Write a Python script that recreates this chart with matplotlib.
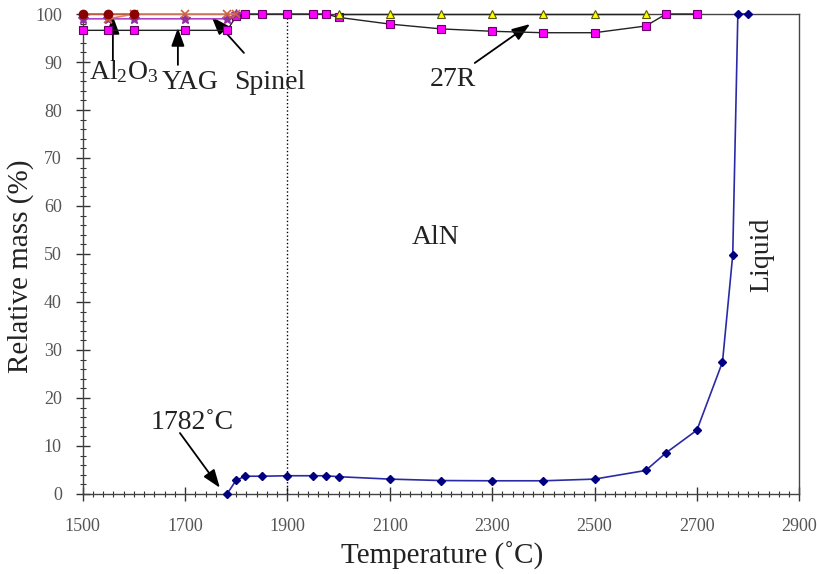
import matplotlib
matplotlib.use("Agg")
import matplotlib.pyplot as plt
from matplotlib.ticker import MultipleLocator

# ---- data ----
T_aln = [1782, 1800, 1818, 1850, 1900, 1950, 1975, 2000, 2100, 2200, 2300, 2400,
         2500, 2600, 2640, 2700, 2750, 2770, 2780, 2800]
m_aln = [0, 2.9, 3.7, 3.7, 3.8, 3.8, 3.8, 3.6, 3.1, 2.8, 2.75, 2.75,
         3.1, 4.9, 8.6, 13.3, 27.5, 49.8, 100, 100]

T_27r = [1500, 1550, 1600, 1700, 1782, 1800, 1818, 1850, 1900, 1950, 1975, 2000,
         2100, 2200, 2300, 2400, 2500, 2600, 2640, 2700]
m_27r = [96.6, 96.6, 96.6, 96.6, 96.6, 99.5, 100, 100, 100, 100, 100, 99.3,
         97.9, 96.9, 96.4, 96.1, 96.1, 97.5, 100, 100]

T_top = [2000, 2100, 2200, 2300, 2400, 2500, 2600]
m_top = [100, 100, 100, 100, 100, 100, 100]

T_al2o3 = [1500, 1550, 1600]
m_al2o3 = [100, 100, 100]

T_spinel = [1550, 1600, 1700, 1782, 1800]
m_spinel = [99, 100, 100, 100, 100]

T_yag = [1500, 1550, 1600, 1700, 1782, 1800]
m_yag = [99, 99, 99, 99, 99, 100]

x_ticks = [1500, 1700, 1900, 2100, 2300, 2500, 2700, 2900]
y_ticks = [0, 10, 20, 30, 40, 50, 60, 70, 80, 90, 100]

plt.rcParams['font.family'] = ['Liberation Serif', 'DejaVu Serif']
plt.rcParams['mathtext.fontset'] = 'custom'
plt.rcParams['mathtext.rm'] = 'Liberation Serif'
plt.rcParams['mathtext.it'] = 'Liberation Serif:italic'
plt.rcParams['mathtext.bf'] = 'Liberation Serif:bold'

fig = plt.figure(figsize=(8.17, 5.74), dpi=100)
ax = fig.add_axes([0.1012, 0.1394, 0.8771, 0.8362])

ax.axvline(1900, color='black', linestyle=':', linewidth=1)

ax.plot(T_27r, m_27r, color='#222222', linewidth=1, marker='s', markersize=6,
        markerfacecolor='#ff00ff', markeredgecolor='#660066', markeredgewidth=0.8,
        clip_on=False, zorder=4)
ax.plot(T_top, m_top, color='#222222', linewidth=1, marker='^', markersize=6,
        markerfacecolor='#ffff00', markeredgecolor='#555500', markeredgewidth=0.8,
        clip_on=False, zorder=5)
ax.plot(T_yag, m_yag, color='#b040c8', linewidth=1.2, marker='*', markersize=7,
        markerfacecolor='#9030a0', markeredgecolor='#9030a0', clip_on=False, zorder=5)
ax.plot(T_spinel, m_spinel, color='#e08060', linewidth=1.2, marker='x', markersize=6,
        markeredgecolor='#d06040', markeredgewidth=1.2, clip_on=False, zorder=5)
ax.plot(T_al2o3, m_al2o3, color='#d06040', linewidth=1.2, marker='o', markersize=6,
        markerfacecolor='#8b0000', markeredgecolor='#8b0000', clip_on=False, zorder=6)
ax.plot(T_aln, m_aln, color='#2a2aa8', linewidth=1.2, marker='D', markersize=4.5,
        markerfacecolor='#000080', markeredgecolor='#000080', clip_on=False, zorder=6)

ax.set_xlim(1500, 2900)
ax.set_ylim(0, 100)
ax.set_xticks(x_ticks)
ax.set_yticks(y_ticks)
ax.xaxis.set_minor_locator(MultipleLocator(20))
ax.yaxis.set_minor_locator(MultipleLocator(2))
ax.tick_params(axis='both', which='major', direction='inout', length=10, width=1,
               labelsize=13, colors='#333333', top=False, right=False)
ax.tick_params(axis='x', which='major', pad=12)
ax.tick_params(axis='y', which='major', pad=10)
ax.tick_params(axis='both', which='minor', direction='inout', length=5, width=0.8,
               colors='#333333', top=False, right=False)
for lab in ax.get_xticklabels() + ax.get_yticklabels():
    lab.set_color('#555555')
for s in ax.spines.values():
    s.set_color('#444444')
    s.set_linewidth(1)

ax.set_xlabel('Temperature (˚C)', fontsize=21, color='#222222')
ax.set_ylabel('Relative mass (%)', fontsize=21, color='#222222')
ax.xaxis.set_label_coords(0.501, -0.100)
ax.yaxis.set_label_coords(-0.068, 0.475)

tc = '#222222'
fs = 20
ap = dict(arrowstyle='-|>,head_length=1.1,head_width=0.4', color='black', lw=1.3,
          shrinkA=0, shrinkB=0)

def arrow(tip, tail):
    ax.annotate('', xy=tip, xytext=tail, arrowprops=ap, annotation_clip=False)

ax.text(1581, 88.0, 'Al$_2$O$_3$', fontsize=fs, color=tc, ha='center', va='center')
arrow((1559, 99.6), (1559, 90.4))
ax.text(1710, 85.8, 'YAG', fontsize=fs, color=tc, ha='center', va='center')
arrow((1686, 97.1), (1686, 89.4))
ax.text(1866, 85.8, 'Spinel', fontsize=fs, color=tc, ha='center', va='center')
arrow((1752, 99.4), (1815, 91.9))
ax.text(2223, 86.3, '27R', fontsize=fs, color=tc, ha='center', va='center')
arrow((2374, 97.9), (2266, 89.8))
ax.text(1714, 14.8, '1782˚C', fontsize=fs, color=tc, ha='center', va='center')
arrow((1768, 1.3), (1690, 12.7))
ax.text(2190, 53.5, 'AlN', fontsize=fs, color=tc, ha='center', va='center')
ax.text(2826, 49.8, 'Liquid', fontsize=fs, color=tc, ha='center', va='center',
        rotation=90)

fig.savefig('out.png', dpi=100)
